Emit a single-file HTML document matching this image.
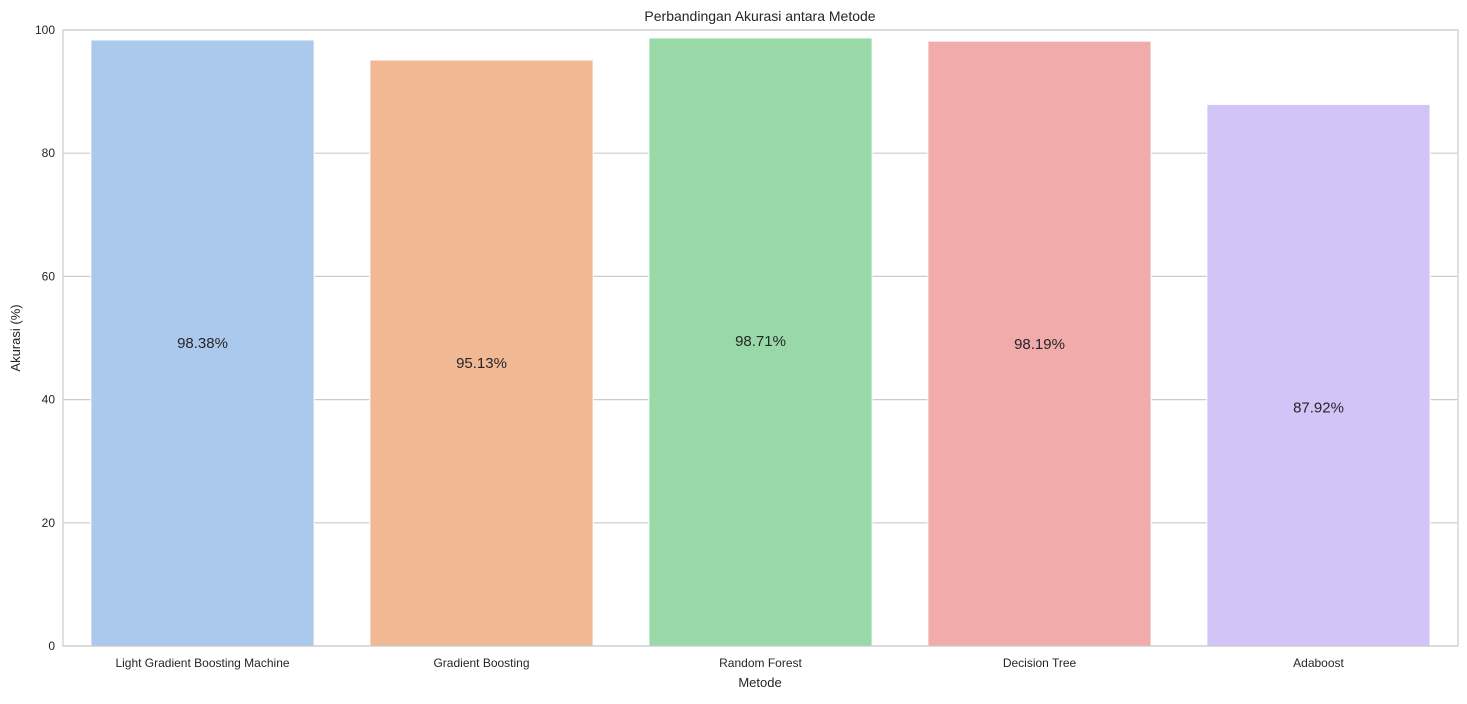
<!DOCTYPE html>
<html><head><meta charset="utf-8"><style>
body{margin:0;background:#fff;font-family:"Liberation Sans",sans-serif;}
</style></head><body>
<svg id="chart" width="1467" height="699" xmlns="http://www.w3.org/2000/svg">
<text x="760" y="21" text-anchor="middle" font-size="14" fill="#262626">Perbandingan Akurasi antara Metode</text>
<g id="grid"></g><g id="bars"></g><g id="labels"></g>
<rect x="63" y="30" width="1395" height="616" fill="none" stroke="#cccccc" stroke-width="1.2"/>
<text x="760" y="687" text-anchor="middle" font-size="13" fill="#262626">Metode</text>
<text transform="translate(20,338) rotate(-90)" text-anchor="middle" font-size="13" fill="#262626">Akurasi (%)</text>
</svg>
<script>
const categories=["Light Gradient Boosting Machine","Gradient Boosting","Random Forest","Decision Tree","Adaboost"];
const values=[98.38,95.13,98.71,98.19,87.92];
const valueLabels=["98.38%","95.13%","98.71%","98.19%","87.92%"];
const yTicks=[0,20,40,60,80,100];
const colors=["#abc9ec","#f0b893","#99d9a8","#f1abaa","#d2c4f7"];
const L=63,R=1458,T=30,B=646,NS="http://www.w3.org/2000/svg";
const y=v=>B-(v/100)*(B-T);
const band=(R-L)/categories.length;
const xc=i=>L+band*(i+0.5);
function mk(tag,attrs,parent,text){const e=document.createElementNS(NS,tag);for(const k in attrs)e.setAttribute(k,attrs[k]);if(text!==undefined)e.textContent=text;document.getElementById(parent).appendChild(e);return e;}
yTicks.forEach(t=>{
 const l=mk("line",{x1:L,x2:R,y1:y(t),y2:y(t),stroke:"#cccccc","stroke-width":1.2},"grid");
 
 
 const tx=mk("text",{x:L-8,y:y(t)+4,"text-anchor":"end","font-size":12,fill:"#262626"},"grid",t);
 
 
});
categories.forEach((c,i)=>{
 const w=band*0.8;
 const r=mk("rect",{x:xc(i)-w/2,y:y(values[i]),width:w,height:B-y(values[i]),fill:colors[i],stroke:"#fff","stroke-width":1},"bars");
 
 
 const t=mk("text",{x:xc(i),y:y(values[i]-49.2)+5,"text-anchor":"middle","font-size":15,fill:"#262626"},"labels",valueLabels[i]);
 
 
 const xl=mk("text",{x:xc(i),y:B+21,"text-anchor":"middle","font-size":12,fill:"#262626"},"labels",c);
 
 
});
</script>
</body></html>
